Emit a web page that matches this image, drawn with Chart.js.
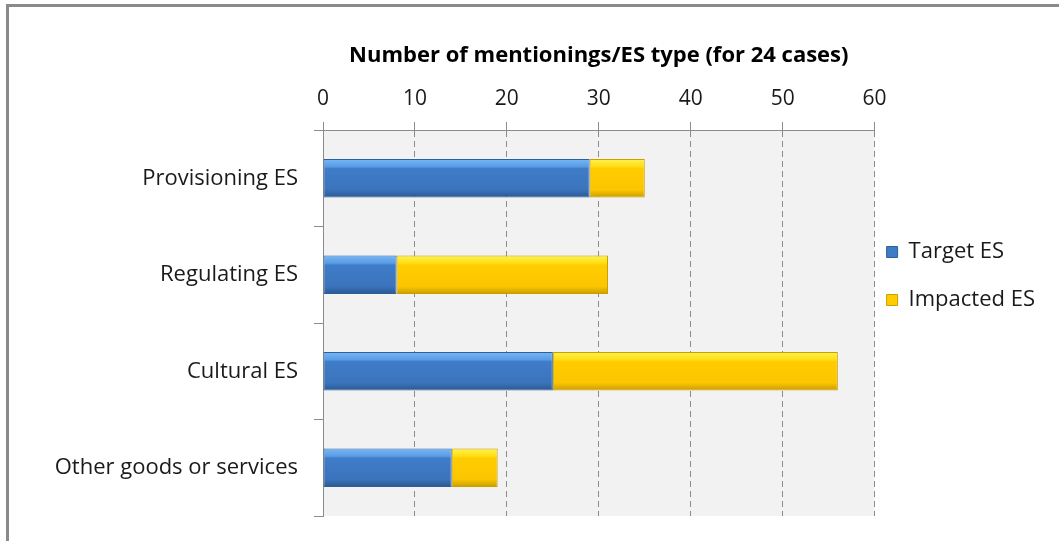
<!DOCTYPE html>
<html>
<head>
<meta charset="utf-8">
<script src="https://cdn.jsdelivr.net/npm/chart.js@4"></script>
<style>
    body { margin: 0; background: #fff; }
    #frame { position: absolute; left: 6px; top: 4px; width: 1100px; height: 600px; border: 3px solid #8a8a8a; }
    #wrap { position: absolute; left: 0; top: 0; width: 1059px; height: 541px; }
</style>
</head>
<body>
<div id="frame"></div>
<div id="wrap"><canvas id="esChart" width="1059" height="541"></canvas></div>
<script>
// data
var categories = ['Provisioning ES', 'Regulating ES', 'Cultural ES', 'Other goods or services'];
var targetES = [29, 8, 25, 14];
var impactedES = [6, 23, 31, 5];
var xTicks = [0, 10, 20, 30, 40, 50, 60];

var FONT = '"Open Sans", "Noto Sans", sans-serif';
var BAR_SHARE = 0.4;

// vertical gradient for each bar, to get the bevelled look
function barFill(stops, flat) {
    return function(context) {
        var chart = context.chart;
        var y = chart.scales && chart.scales.y;
        if (!y || context.type !== 'data' || !isFinite(y.height)) return flat;
        var c = y.getPixelForValue(context.dataIndex);
        var half = (y.height / categories.length) * BAR_SHARE / 2;
        var g = chart.ctx.createLinearGradient(0, c - half, 0, c + half);
        stops.forEach(function(s) { g.addColorStop(s[0], s[1]); });
        return g;
    };
}

var blueStops = [[0, '#74b8f8'], [0.2, '#5a9ce4'], [0.25, '#3f7cc8'], [0.8, '#3b74bc'], [1, '#2a5890']];
var yellowStops = [[0, '#fff24e'], [0.2, '#ffde14'], [0.25, '#ffcc00'], [0.8, '#fcc600'], [1, '#c99c00']];

var plotBg = {
    id: 'plotBg',
    beforeDraw: function(chart) {
        var a = chart.chartArea;
        chart.ctx.save();
        chart.ctx.fillStyle = '#f2f2f2';
        chart.ctx.fillRect(a.left, a.top, a.right - a.left, a.bottom - a.top);
        chart.ctx.restore();
    }
};

// move the legend a bit closer to the plot and lower
var legendShift = {
    id: 'legendShift',
    afterLayout: function(chart) {
        if (chart.legend) {
            chart.legend.left -= 14;
            chart.legend.right -= 14;
            chart.legend.top += 18;
            chart.legend.bottom += 18;
        }
    }
};

var chartData = {
    labels: categories,
    datasets: [
        {
            label: 'Target ES',
            data: targetES,
            backgroundColor: barFill(blueStops, '#3f7cc8'),
            borderColor: '#2f5f99',
            borderWidth: 1,
            borderSkipped: false
        },
        {
            label: 'Impacted ES',
            data: impactedES,
            backgroundColor: barFill(yellowStops, '#ffcc00'),
            borderColor: '#c9a000',
            borderWidth: 1,
            borderSkipped: false
        }
    ]
};

var config = {
    type: 'bar',
    data: chartData,
    plugins: [plotBg, legendShift],
    options: {
        indexAxis: 'y',
        responsive: false,
        animation: false,
        layout: { padding: { top: 0, left: 0, right: 0, bottom: 25 } },
        datasets: { bar: { categoryPercentage: 0.8, barPercentage: 0.5 } },
        scales: {
            x: {
                position: 'top',
                stacked: true,
                min: 0,
                max: 60,
                afterBuildTicks: function(scale) {
                    scale.ticks = xTicks.map(function(v) { return { value: v }; });
                },
                afterFit: function(scale) {
                    scale.height = 130;
                    scale.paddingLeft = 0;
                    scale.paddingRight = 0;
                },
                ticks: {
                    font: { family: FONT, size: 21 },
                    color: '#1a1a1a',
                    padding: 10
                },
                grid: {
                    color: function(ctx) { return ctx.tick && ctx.tick.value === 0 ? 'rgba(0,0,0,0)' : '#8c8c8c'; },
                    tickColor: '#8c8c8c',
                    tickLength: 8,
                    tickBorderDash: [20, 0]
                },
                border: { color: '#8c8c8c', dash: [6, 4] },
                title: {
                    display: true,
                    text: 'Number of mentionings/ES type (for 24 cases)',
                    font: { family: FONT, size: 22, weight: 'bold' },
                    color: '#000',
                    padding: { top: 43, bottom: 0 }
                }
            },
            y: {
                stacked: true,
                afterFit: function(scale) {
                    scale.width = 323;
                    scale.paddingTop = 0;
                    scale.paddingBottom = 0;
                },
                ticks: {
                    font: { family: FONT, size: 22 },
                    color: '#1a1a1a',
                    padding: 16
                },
                grid: {
                    drawOnChartArea: false,
                    color: '#8c8c8c',
                    tickLength: 9
                },
                border: { color: '#8c8c8c' }
            }
        },
        plugins: {
            legend: {
                position: 'right',
                labels: {
                    font: { family: FONT, size: 22 },
                    color: '#1a1a1a',
                    boxWidth: 11,
                    boxHeight: 11,
                    padding: 26,
                    generateLabels: function(chart) {
                        var fills = ['#3f7cc8', '#ffcc00'];
                        var strokes = ['#2f5f99', '#c9a000'];
                        return chart.data.datasets.map(function(ds, i) {
                            return {
                                text: ds.label,
                                fillStyle: fills[i],
                                strokeStyle: strokes[i],
                                lineWidth: 1,
                                fontColor: '#1a1a1a',
                                datasetIndex: i
                            };
                        });
                    }
                }
            },
            tooltip: { enabled: false }
        }
    }
};

var ctx = document.getElementById('esChart').getContext('2d');
var esChart = new Chart(ctx, config);
</script>
</body>
</html>
